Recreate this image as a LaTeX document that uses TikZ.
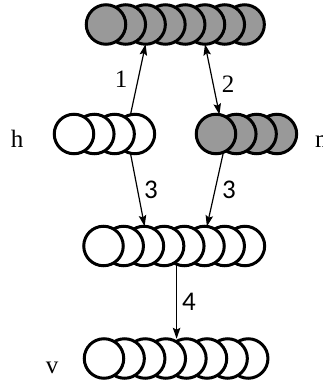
\documentclass[tikz,border=0pt]{standalone}
\usepackage{fontspec}
\setmainfont{Liberation Serif}
\newfontfamily\carlito{Carlito}
\usetikzlibrary{arrows.meta}
\begin{document}
\begin{tikzpicture}[x=1pt,y=-1pt,
  ball/.style={circle, draw, line width=3pt, minimum size=39.5pt, inner sep=0pt, outer sep=0pt, fill=white},
  dark/.style={ball, fill=black!40},
  >={Stealth[length=11pt,width=7.5pt,inset=2pt]},
  link/.style={line width=1.2pt, ->},
  lbl/.style={font=\fontsize{25}{25}\selectfont, inner sep=0pt, anchor=base},
  num/.style={font=\carlito\fontsize{27}{27}\selectfont, inner sep=0pt},
  rnum/.style={font=\fontsize{25}{25}\selectfont, inner sep=0pt}]
\useasboundingbox (0,0) rectangle (322,388);
% top row (gray)
\foreach \i in {7,...,0} \node[dark] (t\i) at ({106+19.8*\i},24.5) {};
% h row
\foreach \i in {3,...,0} \node[ball] (h\i) at ({74+20.3*\i},134) {};
% m row (gray)
\foreach \i in {3,...,0} \node[dark] (m\i) at ({216+20.3*\i},134) {};
% middle row
\foreach \i in {7,...,0} \node[ball] (c\i) at ({103.5+20.2*\i},246) {};
% bottom row
\foreach \i in {7,...,0} \node[ball] (b\i) at ({104+20.6*\i},358.5) {};
% labels
\node[lbl] (lh) at (17,147) {h};
\node[lbl, anchor=base west] (lm) at (315,147) {m};
\node[lbl] (lv) at (52,373) {v};
% connectors
\draw[link] (h3.103) -- (t2.south);
\draw[link, <->] (t5.south) -- (m0.80);
\draw[link] (h3.257) -- (c2.88);
\draw[link] (m0.292) -- (c5.83);
\draw[link] (c4.247) -- (c4.247 |- b3.north);
% connector labels
\node[rnum] (n1) at (121,79) {1};
\node[rnum] (n2) at (228,84) {2};
\node[num] (n3a) at (151,190) {3};
\node[num] (n3b) at (229,190) {3};
\node[num] (n4) at (189,302) {4};
\end{tikzpicture}
\end{document}
